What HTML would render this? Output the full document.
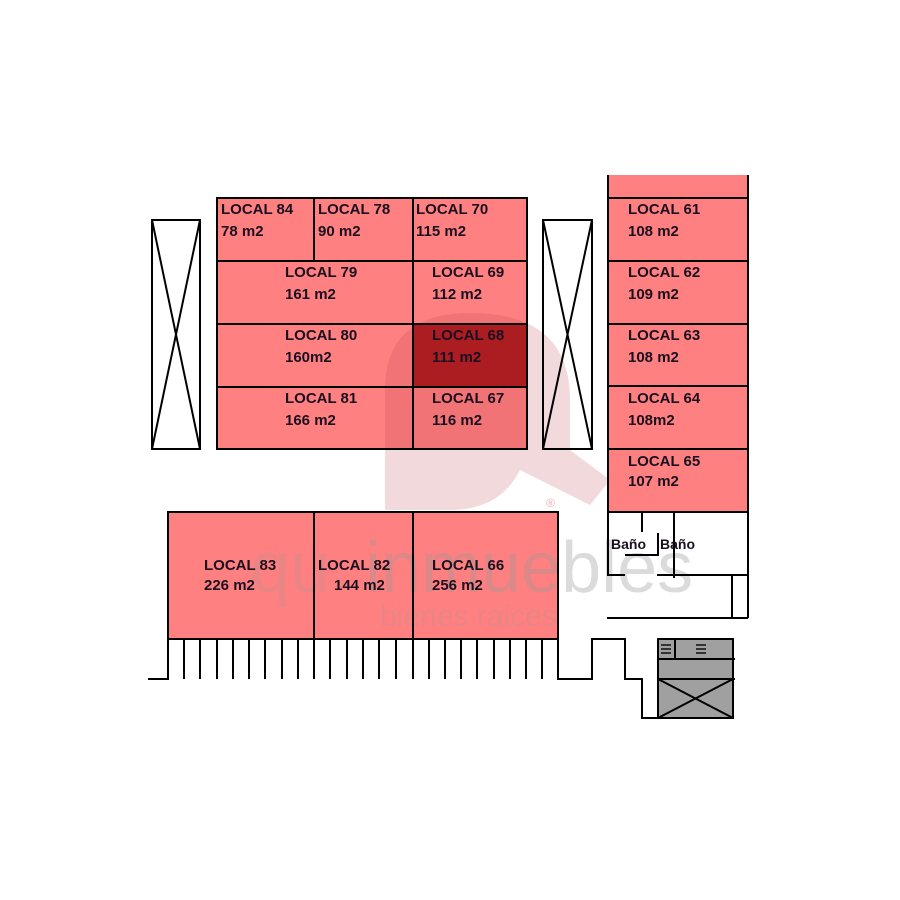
<!DOCTYPE html>
<html><head><meta charset="utf-8"><style>
html,body{margin:0;padding:0;background:#fff;width:900px;height:900px;overflow:hidden}
svg text{font-family:"Liberation Sans",Arial,sans-serif}
.l{font-weight:bold;font-size:15px;fill:#1a1020}
</style></head><body>
<svg width="900" height="900" viewBox="0 0 900 900" xmlns="http://www.w3.org/2000/svg">
<rect width="900" height="900" fill="#fff"/>
<g fill="#ff8080">
<rect x="217" y="198" width="310" height="251"/>
<rect x="608" y="175" width="140" height="337"/>
<rect x="168" y="512" width="390" height="127"/>
</g>
<rect x="413" y="324" width="114" height="63" fill="#a81418"/>
<g opacity="0.2">
<path d="M385 510 L385 390 Q385 313 470 313 Q570 313 570 400 L570 450 L610 480 L590 505 L520 470 Q500 510 450 510 Z" fill="#c0404a"/>
</g>
<g fill="#999" font-family="Liberation Sans,Arial,sans-serif">
<text x="250" y="592" font-size="72" opacity="0.2">qu</text>
<text x="365" y="592" font-size="72" opacity="0.35">inmuebles</text>
<text x="380" y="626" font-size="30" opacity="0.2">bienes raices</text>
<text x="546" y="507" font-size="12" fill="#d06070" opacity="0.5">®</text>
</g>
<g stroke="#000" stroke-width="2" fill="none">
<rect x="217" y="198" width="310" height="251"/>
<line x1="217" y1="261" x2="527" y2="261"/>
<line x1="217" y1="324" x2="527" y2="324"/>
<line x1="217" y1="387" x2="527" y2="387"/>
<line x1="314" y1="198" x2="314" y2="261"/>
<line x1="413" y1="198" x2="413" y2="449"/>
<rect x="152" y="220" width="48" height="229"/>
<line x1="152" y1="220" x2="200" y2="449"/><line x1="200" y1="220" x2="152" y2="449"/>
<rect x="543" y="220" width="49" height="229"/>
<line x1="543" y1="220" x2="592" y2="449"/><line x1="592" y1="220" x2="543" y2="449"/>
<line x1="608" y1="175" x2="608" y2="575"/>
<line x1="748" y1="175" x2="748" y2="618"/>
<line x1="608" y1="198" x2="748" y2="198"/>
<line x1="608" y1="261" x2="748" y2="261"/>
<line x1="608" y1="324" x2="748" y2="324"/>
<line x1="608" y1="386" x2="748" y2="386"/>
<line x1="608" y1="449" x2="748" y2="449"/>
<line x1="608" y1="512" x2="748" y2="512"/>
<line x1="642" y1="512" x2="642" y2="532"/>
<line x1="674" y1="512" x2="674" y2="578"/>
<polyline points="625,555 658,555 658,533"/>
<line x1="607" y1="575" x2="625" y2="575"/>
<line x1="657" y1="575" x2="748" y2="575"/>
<line x1="607" y1="618" x2="748" y2="618"/>
<line x1="732" y1="575" x2="732" y2="618"/>
<rect x="168" y="512" width="390" height="127"/>
<line x1="314" y1="512" x2="314" y2="679"/>
<line x1="413" y1="512" x2="413" y2="679"/>
<polyline points="148,679 168,679 168,639"/>
<polyline points="558,639 558,679 592,679 592,639 625,639 625,679 642,679 642,718 658,718"/>
</g>
<g stroke="#000" stroke-width="2">
<line x1="184" y1="639" x2="184" y2="679"/><line x1="200" y1="639" x2="200" y2="679"/>
<line x1="217" y1="639" x2="217" y2="679"/><line x1="233" y1="639" x2="233" y2="679"/>
<line x1="249" y1="639" x2="249" y2="679"/><line x1="265" y1="639" x2="265" y2="679"/>
<line x1="282" y1="639" x2="282" y2="679"/><line x1="298" y1="639" x2="298" y2="679"/>
<line x1="330" y1="639" x2="330" y2="679"/><line x1="347" y1="639" x2="347" y2="679"/>
<line x1="363" y1="639" x2="363" y2="679"/><line x1="379" y1="639" x2="379" y2="679"/>
<line x1="396" y1="639" x2="396" y2="679"/>
<line x1="429" y1="639" x2="429" y2="679"/><line x1="445" y1="639" x2="445" y2="679"/>
<line x1="461" y1="639" x2="461" y2="679"/><line x1="477" y1="639" x2="477" y2="679"/>
<line x1="494" y1="639" x2="494" y2="679"/><line x1="510" y1="639" x2="510" y2="679"/>
<line x1="526" y1="639" x2="526" y2="679"/><line x1="542" y1="639" x2="542" y2="679"/>
</g>
<rect x="658" y="639" width="75" height="79" fill="#a0a0a0" stroke="#000" stroke-width="2"/>
<g stroke="#000" stroke-width="2">
<line x1="658" y1="659" x2="735" y2="659"/>
<line x1="658" y1="679" x2="735" y2="679"/>
<line x1="675" y1="639" x2="675" y2="659"/>
<line x1="658" y1="679" x2="733" y2="718"/><line x1="733" y1="679" x2="658" y2="718"/>
</g>
<g fill="#333"><rect x="661" y="644" width="10" height="2"/><rect x="661" y="648" width="10" height="2"/><rect x="661" y="652" width="10" height="2"/>
<rect x="696" y="644" width="10" height="2"/><rect x="696" y="648" width="10" height="2"/><rect x="696" y="652" width="10" height="2"/></g>
<g class="l">
<text class="l" x="221" y="214">LOCAL 84</text><text class="l" x="221" y="236">78 m2</text>
<text class="l" x="318" y="214">LOCAL 78</text><text class="l" x="318" y="236">90 m2</text>
<text class="l" x="416" y="214">LOCAL 70</text><text class="l" x="416" y="236">115 m2</text>
<text class="l" x="285" y="277">LOCAL 79</text><text class="l" x="285" y="299">161 m2</text>
<text class="l" x="432" y="277">LOCAL 69</text><text class="l" x="432" y="299">112 m2</text>
<text class="l" x="285" y="340">LOCAL 80</text><text class="l" x="285" y="362">160m2</text>
<text class="l" x="432" y="340">LOCAL 68</text><text class="l" x="432" y="362">111 m2</text>
<text class="l" x="285" y="403">LOCAL 81</text><text class="l" x="285" y="425">166 m2</text>
<text class="l" x="432" y="403">LOCAL 67</text><text class="l" x="432" y="425">116 m2</text>
<text class="l" x="628" y="214">LOCAL 61</text><text class="l" x="628" y="236">108 m2</text>
<text class="l" x="628" y="277">LOCAL 62</text><text class="l" x="628" y="299">109 m2</text>
<text class="l" x="628" y="340">LOCAL 63</text><text class="l" x="628" y="362">108 m2</text>
<text class="l" x="628" y="403">LOCAL 64</text><text class="l" x="628" y="425">108m2</text>
<text class="l" x="628" y="466">LOCAL 65</text><text class="l" x="628" y="486">107 m2</text>
<text class="l" x="204" y="570">LOCAL 83</text><text class="l" x="204" y="590">226 m2</text>
<text class="l" x="318" y="570">LOCAL 82</text><text class="l" x="334" y="590">144 m2</text>
<text class="l" x="432" y="570">LOCAL 66</text><text class="l" x="432" y="590">256 m2</text>
<text class="l" x="611" y="549" style="font-size:14px">Baño</text>
<text class="l" x="660" y="549" style="font-size:14px">Baño</text>
</g>
</svg>
</body></html>
